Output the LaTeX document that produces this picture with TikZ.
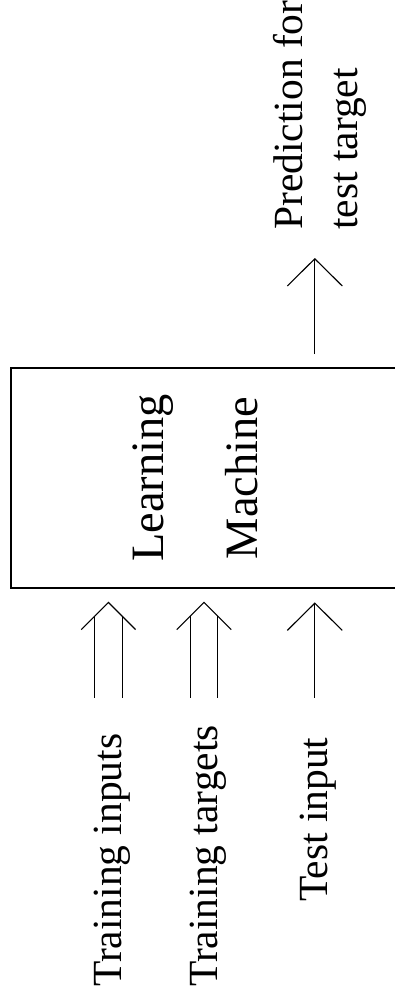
\documentclass[tikz,border=0pt]{standalone}
\usepackage{fontspec}
\setmainfont{Liberation Serif}
\usetikzlibrary{arrows.meta}

\begin{document}
\begin{tikzpicture}[
    thinline/.style={line width=0.8pt},
    uparrow/.style={thinline, -{Straight Barb[length=0.68cm, width=1.375cm]}},
    iotext/.style={rotate=90, inner sep=0pt, font=\fontsize{29.5}{35}\selectfont},
    boxtext/.style={rotate=90, inner sep=0pt, font=\fontsize{33}{40}\selectfont}]
    \useasboundingbox (0,0) rectangle (9.875,-25.05);
    % the machine, runs off the right edge
    \node[draw, line width=1.6pt, outer sep=0pt, minimum width=10.02cm, minimum height=5.49cm] (lm) at (5.29,-11.95) {};
    \node[boxtext, anchor=base] (learn) at (4.075,-11.95) {Learning};
    \node[boxtext, anchor=base] (mach) at (6.425,-11.95) {Machine};
    % output
    \node[iotext, anchor=base west] (pred) at (7.55,-5.75) {Prediction for};
    \node[iotext, anchor=base west] (predb) at (8.925,-5.75) {test target};
    \coordinate (outtip) at (7.87,-6.45);
    \draw[uparrow, shorten <=0.35cm] (outtip |- lm.north) -- (outtip);
    % inputs
    \node[iotext, anchor=base west] (trin) at (3.025,-24.675) {Training inputs};
    \node[iotext, anchor=base west] (trtg) at (5.44,-24.675) {Training targets};
    \node[iotext, anchor=base west] (tstin) at (8.19,-22.55) {Test input};
    \foreach \x in {2.71,5.10} {
        \draw[thinline] (\x-0.68,-15.74) -- (\x,-15.06) -- (\x+0.68,-15.74);
        \draw[thinline] (\x-0.345,-17.44) -- (\x-0.345,-15.405);
        \draw[thinline] (\x+0.345,-17.44) -- (\x+0.345,-15.405);
    }
    \coordinate (testtail) at (7.87,-17.44);
    \draw[uparrow, shorten >=0.365cm] (testtail) -- (testtail |- lm.south);
\end{tikzpicture}
\end{document}
